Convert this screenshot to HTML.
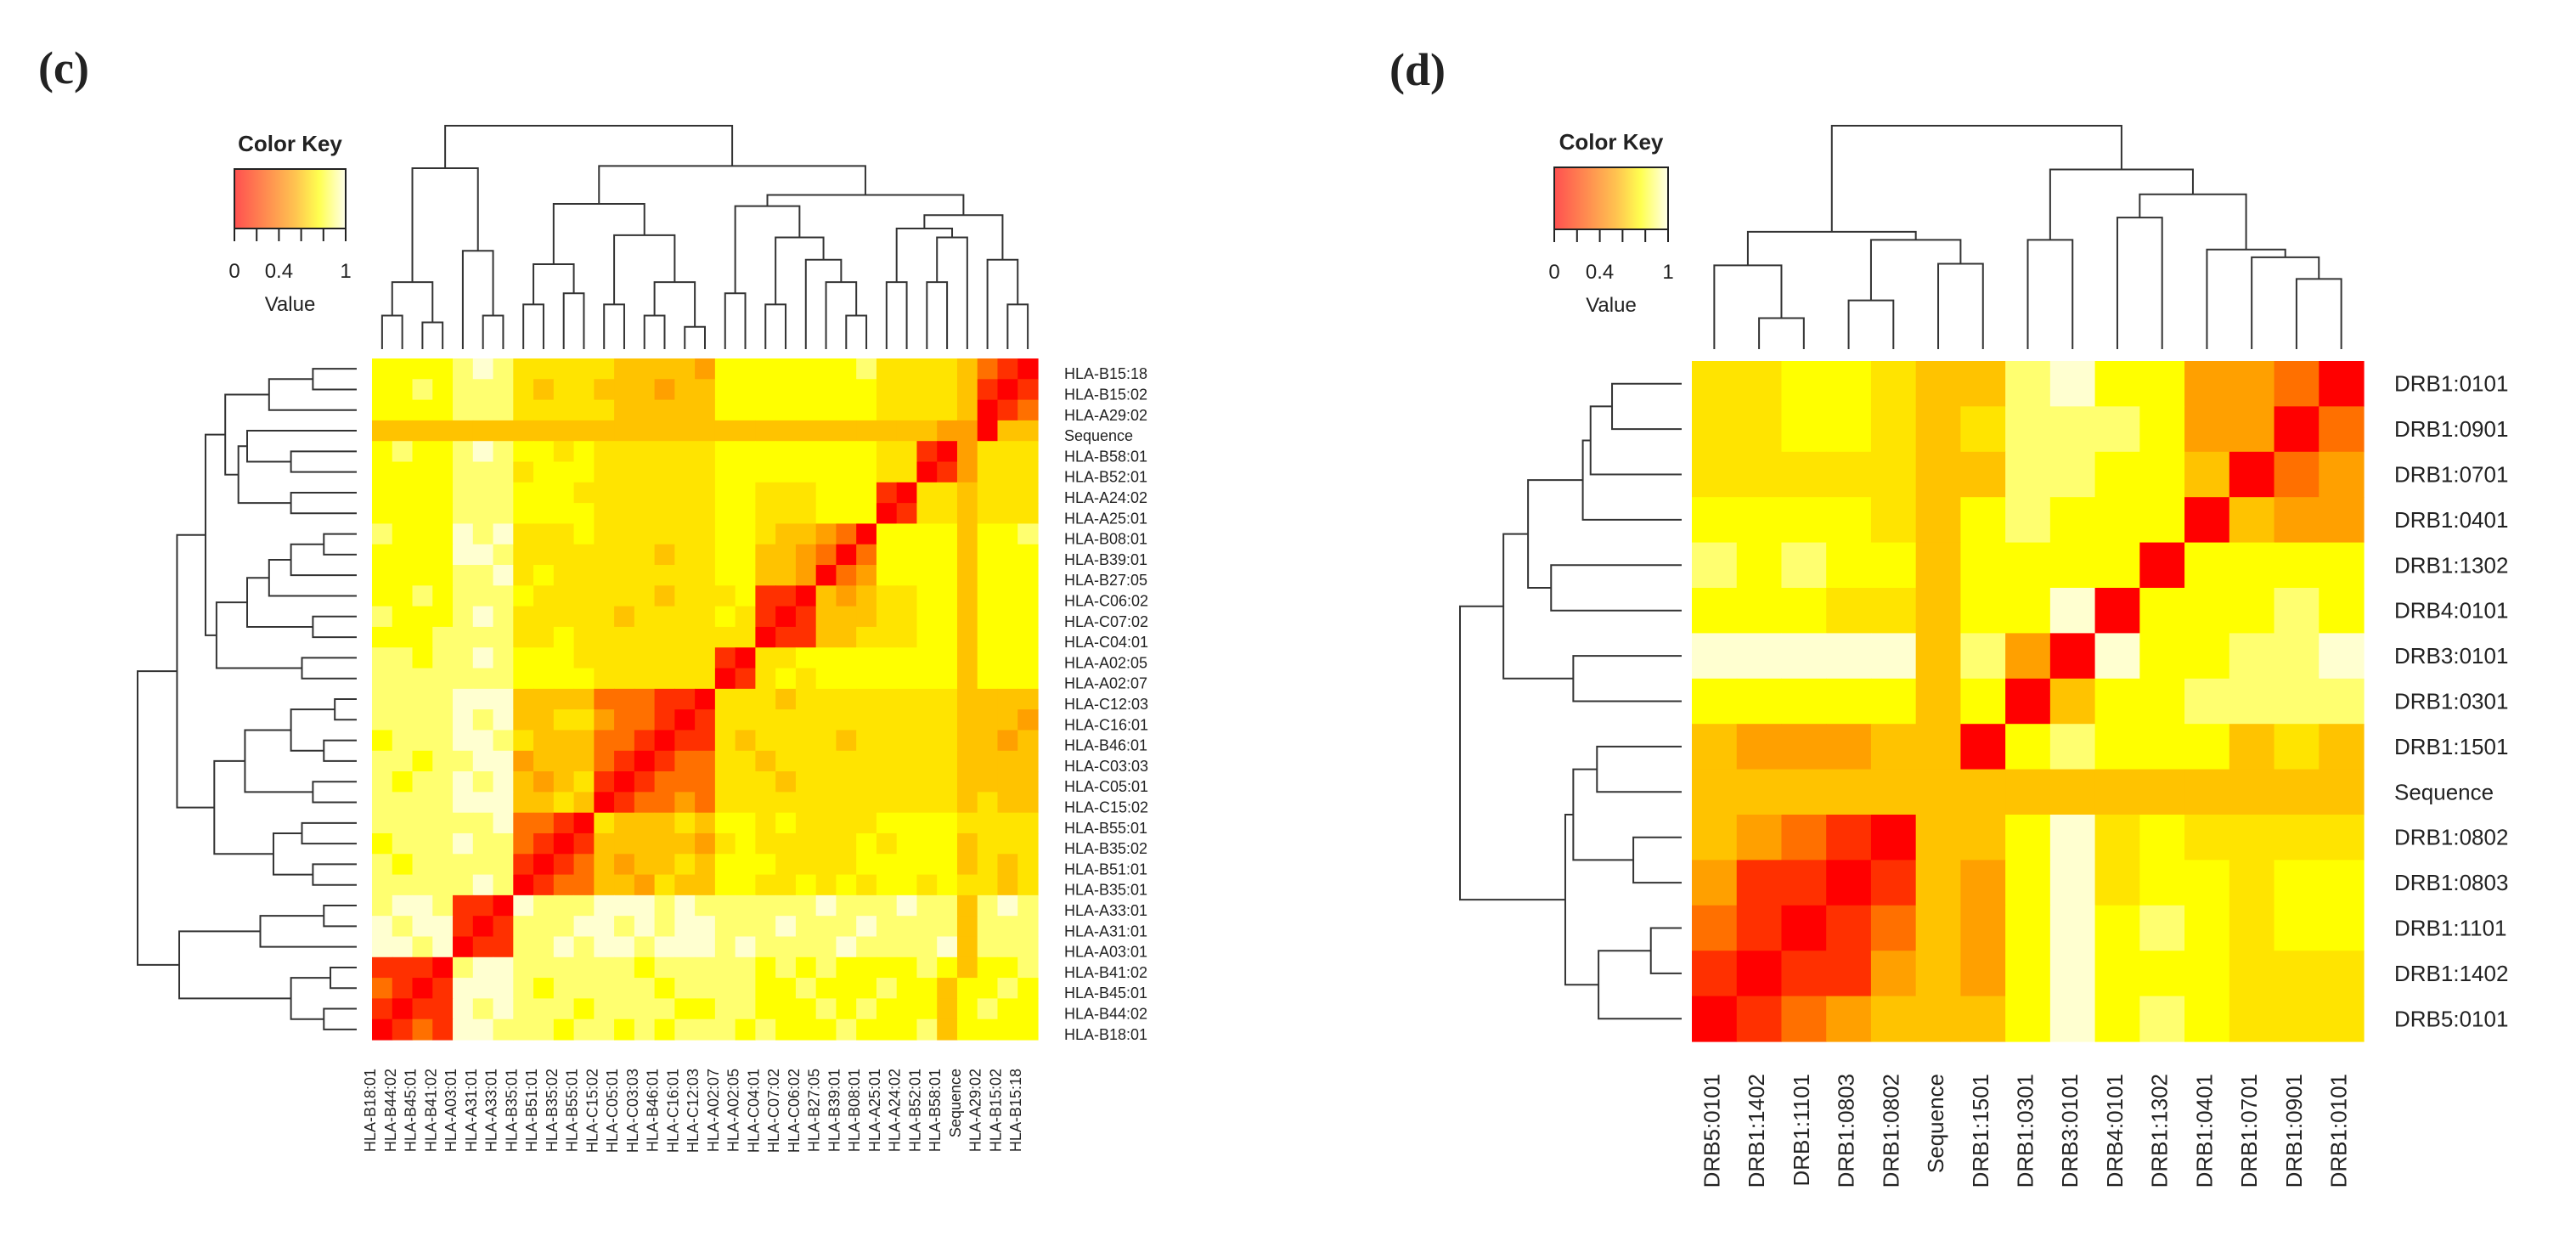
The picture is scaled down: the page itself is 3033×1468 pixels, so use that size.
<!DOCTYPE html>
<html><head><meta charset="utf-8"><style>
html,body{margin:0;padding:0;background:#fff}
svg{display:block}
text{font-family:"Liberation Sans",sans-serif;fill:#222}
</style></head><body>
<svg id="fig" width="3033" height="1468" viewBox="0 0 3033 1468" xmlns="http://www.w3.org/2000/svg">
<defs>
<linearGradient id="keygrad" x1="0" x2="1" y1="0" y2="0">
<stop offset="0" stop-color="#ff5050"/><stop offset="0.3" stop-color="#ff8f50"/><stop offset="0.55" stop-color="#ffc450"/><stop offset="0.76" stop-color="#ffff50"/><stop offset="1" stop-color="#ffffea"/>
</linearGradient>
</defs>
<text x="45" y="98" style="font-family:'Liberation Serif',serif;font-weight:bold;font-size:54px" fill="#111">(c)</text>
<text x="1636" y="100" style="font-family:'Liberation Serif',serif;font-weight:bold;font-size:54px" fill="#111">(d)</text>
</svg>
<script>
// ---------- Panel (c) data ----------
const cLabels = ["HLA-B18:01","HLA-B44:02","HLA-B45:01","HLA-B41:02","HLA-A03:01","HLA-A31:01","HLA-A33:01","HLA-B35:01","HLA-B51:01","HLA-B35:02","HLA-B55:01","HLA-C15:02","HLA-C05:01","HLA-C03:03","HLA-B46:01","HLA-C16:01","HLA-C12:03","HLA-A02:07","HLA-A02:05","HLA-C04:01","HLA-C07:02","HLA-C06:02","HLA-B27:05","HLA-B39:01","HLA-B08:01","HLA-A25:01","HLA-A24:02","HLA-B52:01","HLA-B58:01","Sequence","HLA-A29:02","HLA-B15:02","HLA-B15:18"];
const cMatrix = [
"012188777677676777676667666746666",
"101187877767777667766676766646766",
"210188876777776777766766676646676",
"111078877777767777767676666764667",
"887801177878878887877778777784777",
"878810177788787887778777877774777",
"788711087778887877777787778774787",
"777778701224435446655656566565545",
"767777710124344546665555666664545",
"677787721014444435655555656664555",
"777777822105444546656555566665555",
"777788844540122325555555555554544",
"767787843451012225554555555554444",
"776778834442101225545555555554444",
"677788754442210115455554555554434",
"777787844553221015555555555554443",
"777788844442221105554555555554444",
"777777766665555550156566666664666",
"776778766655555551055666666664666",
"666777755655555555501144555664666",
"766678755555455556510144455664666",
"667677765555554555611043455664666",
"666677856555555556644302366664666",
"666688755555554556644320266664666",
"766687855565555556654432066664667",
"666677766665555556655566601554555",
"666677766655555556655566610554555",
"666677756665555556666666655013555",
"676678766565555556666666655103555",
"444444444444444444444444444433044",
"666677755555444446666666655554012",
"667677754554443446666666655554101",
"666678755555444436666666755554210"
];
const cTree = [
  [[[0,1,0.15],[2,3,0.12],0.30],[4,[5,6,0.15],0.44],0.81],
  [[[[7,8,0.2],[9,10,0.25],0.38],[[11,12,0.2],[[13,14,0.15],[15,16,0.1],0.3],0.51],0.65],
   [[[17,18,0.25],[[19,20,0.2],[21,[22,[23,24,0.15],0.3],0.4],0.5],0.64],
    [[[25,26,0.3],[[27,28,0.3],29,0.5],0.54],[30,[31,32,0.2],0.4],0.6],0.69],0.82],
  1.0];

// ---------- Panel (d) data ----------
const dColLabels = ["DRB5:0101","DRB1:1402","DRB1:1101","DRB1:0803","DRB1:0802","Sequence","DRB1:1501","DRB1:0301","DRB3:0101","DRB4:0101","DRB1:1302","DRB1:0401","DRB1:0701","DRB1:0901","DRB1:0101"];
const dRowLabels = ["DRB1:0101","DRB1:0901","DRB1:0701","DRB1:0401","DRB1:1302","DRB4:0101","DRB3:0101","DRB1:0301","DRB1:1501","Sequence","DRB1:0802","DRB1:0803","DRB1:1101","DRB1:1402","DRB5:0101"];
const dMatrix = [
"556654478663320",
"556654577763302",
"555554477664023",
"666654676660433",
"767664666606666",
"666554668066676",
"888884730866778",
"666664604667777",
"433344067666454",
"444444444444444",
"432104468565555",
"311014368566566",
"210124368676566",
"101134368666555",
"012344468676555"
];
const dTree = [
  [[0,[1,2,0.139],0.375],[[3,4,0.218],[5,6,0.382],0.489],0.525],
  [[7,8,0.489],[[9,10,0.589],[11,[12,[13,14,0.314],0.411],0.446],0.693],0.804],
  1.0];

const keyTicks = ["0","0.4","1"];
const keyTickVals = [0,0.4,1];

// ---------- helpers ----------
const NS = "http://www.w3.org/2000/svg";
const svg = document.getElementById("fig");
function mk(tag, attrs, parent){
  const e = document.createElementNS(NS, tag);
  for (const k in attrs) e.setAttribute(k, attrs[k]);
  (parent||svg).appendChild(e);
  return e;
}
const stops = [[0,[255,0,0]],[0.125,[255,48,0]],[0.25,[255,112,0]],[0.375,[255,160,0]],[0.5,[255,195,0]],[0.625,[255,228,0]],[0.75,[255,255,0]],[0.875,[255,255,112]],[1,[255,255,208]]];
function color(v){
  for (let i=1;i<stops.length;i++){
    if (v<=stops[i][0]){
      const a=stops[i-1], b=stops[i], t=(v-a[0])/(b[0]-a[0]);
      const c=a[1].map((x,j)=>Math.round(x+(b[1][j]-x)*t));
      return "rgb("+c.join(",")+")";
    }
  }
  return "rgb(255,255,208)";
}
function drawTree(node, g, pos, hpos, treeName){
  if (typeof node === "number") return [pos(node), 0];
  const a = drawTree(node[0], g, pos, hpos, treeName);
  const b = drawTree(node[1], g, pos, hpos, treeName);
  const h = node[2];
  const m = (a[0]+b[0])/2;
  const p = hpos.orient === "col"
    ? `M${a[0]},${hpos.f(a[1])}V${hpos.f(h)}H${b[0]}V${hpos.f(b[1])}`
    : `M${hpos.f(a[1])},${a[0]}H${hpos.f(h)}V${b[0]}H${hpos.f(b[1])}`;
  const path = mk("path", {d:p, fill:"none", stroke:"#333", "stroke-width":2}, g);
  
  
  return [m, h];
}
function colorKey(x0, y0, w, h, prefix){
  const g = mk("g", {});
  
  
  const t = mk("text", {x:x0+w/2, y:y0-21, "text-anchor":"middle", "font-size":26, "font-weight":"bold", fill:"#111"}, g);
  t.textContent = "Color Key";
  
  
  const r = mk("rect", {x:x0, y:y0, width:w, height:h, fill:"url(#keygrad)", stroke:"#222", "stroke-width":2}, g);
  
  
  for (let i=0;i<=5;i++){
    const tk = mk("line", {x1:x0+w*i/5, x2:x0+w*i/5, y1:y0+h, y2:y0+h+15, stroke:"#222", "stroke-width":2}, g);
    
    
  }
  keyTicks.forEach((lab,i)=>{
    const tl = mk("text", {x:x0+w*keyTickVals[i], y:y0+h+58, "text-anchor":"middle", "font-size":24}, g);
    tl.textContent = lab;
    
    
  });
  const v = mk("text", {x:x0+w/2, y:y0+h+97, "text-anchor":"middle", "font-size":24}, g);
  v.textContent = "Value";
  
  
}

// ---------- Panel (c) ----------
(function(){
  const n = cLabels.length;
  const x0=438, x1=1222, y0=422, y1=1224;
  const cw=(x1-x0)/n, rh=(y1-y0)/n;
  const g = mk("g", {});
  
  
  for (let r=0;r<n;r++){
    const row = cMatrix[n-1-r];
    for (let c=0;c<n;c++){
      const v = parseInt(row[c])/8;
      const cell = mk("rect", {x:x0+c*cw, y:y0+r*rh, width:cw+0.6, height:rh+0.6, fill:color(v)}, g);
      
      
    }
  }
  for (let r=0;r<n;r++){
    const t = mk("text", {x:1253, y:y0+(r+0.5)*rh+12, "font-size":18});
    t.textContent = cLabels[n-1-r];
    
    
  }
  for (let c=0;c<n;c++){
    const x = x0 + c*cw + 4;
    const t = mk("text", {x:0, y:0, "font-size":18, "text-anchor":"end", transform:`translate(${x},1258) rotate(-90)`});
    t.textContent = cLabels[c];
    
    
  }
  const gc = mk("g", {});
  
  
  drawTree(cTree, gc, i=>x0+(i+0.5)*cw, {orient:"col", f:h=>411-h*(411-148)}, 'column-dendrogram');
  const gr = mk("g", {});
  
  
  drawTree(cTree, gr, i=>y0+(n-1-i+0.5)*rh, {orient:"row", f:h=>420-h*(420-162)}, 'row-dendrogram');
  colorKey(276, 199, 131, 70, 'panel-c');
})();

// ---------- Panel (d) ----------
(function(){
  const n = dColLabels.length;
  const x0=1992, x1=2783, y0=425, y1=1226;
  const cw=(x1-x0)/n, rh=(y1-y0)/n;
  const g = mk("g", {});
  
  
  for (let r=0;r<n;r++){
    for (let c=0;c<n;c++){
      const v = parseInt(dMatrix[r][c])/8;
      const cell = mk("rect", {x:x0+c*cw, y:y0+r*rh, width:cw+0.6, height:rh+0.6, fill:color(v)}, g);
      
      
    }
  }
  for (let r=0;r<n;r++){
    const t = mk("text", {x:2819, y:y0+(r+0.5)*rh+9, "font-size":26});
    t.textContent = dRowLabels[r];
    
    
  }
  for (let c=0;c<n;c++){
    const x = x0 + (c+0.5)*cw + 6;
    const t = mk("text", {x:0, y:0, "font-size":26, "text-anchor":"end", transform:`translate(${x},1264) rotate(-90)`});
    t.textContent = dColLabels[c];
    
    
  }
  const gc = mk("g", {});
  
  
  drawTree(dTree, gc, i=>x0+(i+0.5)*cw, {orient:"col", f:h=>411-h*(411-148)}, 'column-dendrogram');
  const gr = mk("g", {});
  
  
  drawTree(dTree, gr, i=>y0+(n-1-i+0.5)*rh, {orient:"row", f:h=>1980-h*(1980-1719)}, 'row-dendrogram');
  colorKey(1830, 197, 134, 73, 'panel-d');
})();
</script>
</body></html>
